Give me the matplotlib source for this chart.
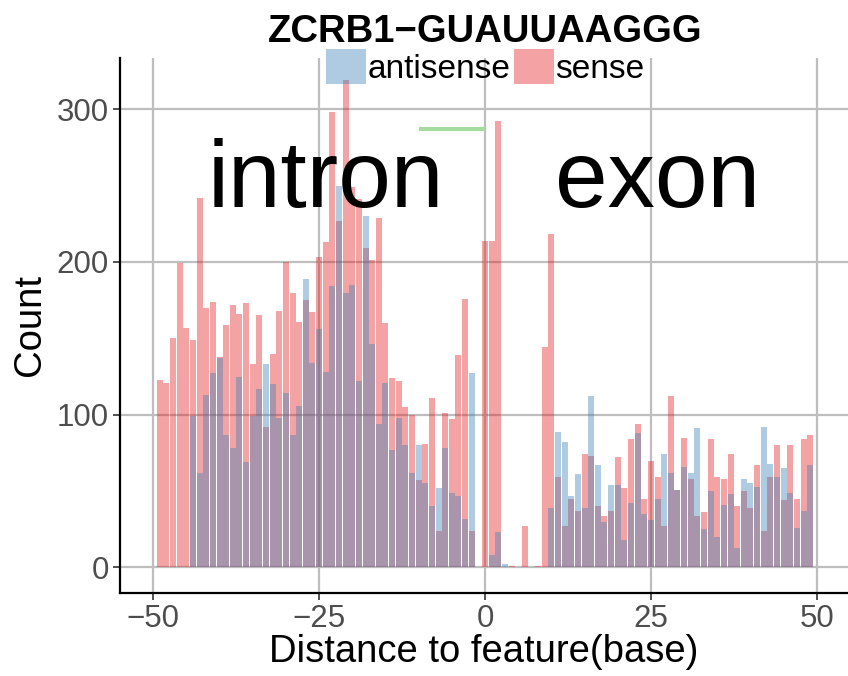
import numpy as np
import matplotlib
matplotlib.use("Agg")
import matplotlib.pyplot as plt
from matplotlib.patches import Patch

plt.rcParams['font.family'] = ['Liberation Sans', 'DejaVu Sans']

# distance to feature, -49 .. 49
distance = list(range(-49, 50))

sense = [123, 121, 150, 199, 157, 149, 242, 170, 174, 138,
         159, 172, 166, 173, 133, 165, 92, 140, 168, 200,
         180, 161, 175, 167, 203, 213, 298, 227, 319, 249,
         241, 209, 201, 229, 160, 124, 122, 105, 100, 57,
         81, 111, 24, 101, 97, 139, 176, 24, 0, 214,
         214, 292, 0, 1, 0, 27, 0, 1, 144, 218,
         59, 27, 45, 37, 74, 73, 40, 34, 37, 72,
         52, 84, 94, 45, 70, 59, 27, 112, 51, 85,
         58, 34, 36, 84, 59, 58, 74, 40, 50, 39,
         67, 24, 59, 80, 44, 80, 45, 84, 87]

antisense = [0, 0, 0, 0, 0, 99, 62, 113, 127, 137,
             87, 78, 125, 69, 99, 117, 133, 120, 98, 114,
             87, 106, 189, 134, 156, 128, 184, 250, 180, 185,
             122, 230, 146, 94, 121, 77, 98, 80, 62, 80,
             55, 40, 52, 78, 49, 47, 32, 127, 0, 0,
             8, 23, 2, 0, 0, 0, 0, 0, 0, 39,
             89, 82, 47, 61, 39, 112, 67, 30, 54, 54,
             18, 42, 88, 35, 31, 45, 74, 62, 51, 66,
             62, 91, 25, 50, 20, 41, 48, 13, 58, 55,
             53, 92, 68, 59, 65, 49, 26, 37, 67]

series_names = ["antisense", "sense"]
title = "ZCRB1\u2212GUAUUAAGGG"

blue = "#377EB8"
red = "#E41A1C"
alpha = 0.4

fig = plt.figure(figsize=(8.48, 6.76), dpi=100)
ax = fig.add_axes([120 / 848, 83 / 676, 728 / 848, 535 / 676])

ax.bar(distance, sense, width=0.9, color=red, alpha=alpha, linewidth=0, zorder=2)
ax.bar(distance, antisense, width=0.9, color=blue, alpha=alpha, linewidth=0, zorder=3)

# green marker segment and region labels
ax.plot([-10, 0], [287, 287], color="#a6dba0", lw=3, solid_capstyle="butt", zorder=4)
ax.text(-24, 252, "intron", fontsize=68, ha="center", va="center", zorder=5)
ax.text(26, 252, "exon", fontsize=68, ha="center", va="center", zorder=5)

ax.set_xlim(-55, 54.7)
ax.set_ylim(-16.7, 333.5)
ax.set_xticks([-50, -25, 0, 25, 50])
ax.set_xticklabels(["\u221250", "\u221225", "0", "25", "50"])
ax.set_yticks([0, 100, 200, 300])
ax.grid(True, color="#bebebe", lw=1.6, zorder=0)
ax.set_axisbelow(True)

for s in ["top", "right"]:
    ax.spines[s].set_visible(False)
for s in ["left", "bottom"]:
    ax.spines[s].set_color("black")
    ax.spines[s].set_linewidth(1.6)

ax.tick_params(axis="both", labelsize=22.5, labelcolor="#4d4d4d", color="#333333",
               length=5, width=1.2, pad=3)
ax.set_xlabel("Distance to feature(base)", fontsize=27.5, labelpad=0)
ax.set_ylabel("Count", fontsize=27.5, labelpad=6)

fig.text(485 / 848, 1 - 32 / 676, title, fontsize=27.5, fontweight="bold",
         ha="center", va="center")

handles = [Patch(facecolor=blue, alpha=alpha, linewidth=0),
           Patch(facecolor=red, alpha=alpha, linewidth=0)]
fig.legend(handles, series_names, loc="center", bbox_to_anchor=(485 / 848, 1 - 67 / 676),
           ncol=2, frameon=False, fontsize=24, handlelength=1.2, handleheight=1.2,
           handletextpad=0.05, columnspacing=0.1, borderpad=0, borderaxespad=0)

fig.savefig("out.png", dpi=100)
